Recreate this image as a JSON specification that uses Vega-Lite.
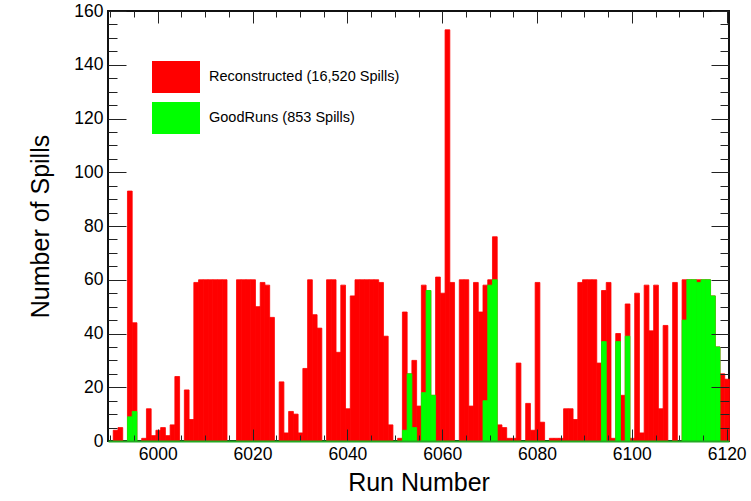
{
  "$schema": "https://vega.github.io/schema/vega-lite/v6.json",
  "width": 621,
  "height": 430,
  "autosize": {"type": "none"},
  "padding": {"left": 108, "top": 11, "right": 22, "bottom": 60},
  "background": "white",
  "config": {
    "view": {"stroke": "#111111", "strokeWidth": 2},
    "font": "Liberation Sans",
    "axis": {"labelFont": "Liberation Sans", "titleFont": "Liberation Sans", "labelColor": "#000000", "titleColor": "#000000", "grid": false, "titleFontWeight": "normal"},
    "legend": {"labelFont": "Liberation Sans"}
  },
  "datasets": {
    "reco": [
      {"run": 5991, "n": 4}, {"run": 5992, "n": 5}, {"run": 5994, "n": 93}, {"run": 5995, "n": 44},
      {"run": 5997, "n": 1}, {"run": 5998, "n": 12}, {"run": 5999, "n": 2}, {"run": 6000, "n": 4},
      {"run": 6001, "n": 5}, {"run": 6002, "n": 2}, {"run": 6003, "n": 6}, {"run": 6004, "n": 24},
      {"run": 6006, "n": 19}, {"run": 6007, "n": 8}, {"run": 6008, "n": 59}, {"run": 6009, "n": 60},
      {"run": 6010, "n": 60}, {"run": 6011, "n": 60}, {"run": 6012, "n": 60}, {"run": 6013, "n": 60},
      {"run": 6014, "n": 60}, {"run": 6017, "n": 60}, {"run": 6018, "n": 60}, {"run": 6019, "n": 60},
      {"run": 6020, "n": 60}, {"run": 6021, "n": 50}, {"run": 6022, "n": 59}, {"run": 6023, "n": 58},
      {"run": 6024, "n": 46}, {"run": 6026, "n": 22}, {"run": 6027, "n": 3}, {"run": 6028, "n": 11},
      {"run": 6029, "n": 10}, {"run": 6030, "n": 3}, {"run": 6031, "n": 27}, {"run": 6032, "n": 60},
      {"run": 6033, "n": 47}, {"run": 6034, "n": 42}, {"run": 6036, "n": 60}, {"run": 6037, "n": 60},
      {"run": 6038, "n": 33}, {"run": 6039, "n": 58}, {"run": 6040, "n": 12}, {"run": 6041, "n": 54},
      {"run": 6042, "n": 60}, {"run": 6043, "n": 60}, {"run": 6044, "n": 60}, {"run": 6045, "n": 60},
      {"run": 6046, "n": 60}, {"run": 6047, "n": 59}, {"run": 6048, "n": 39}, {"run": 6049, "n": 6},
      {"run": 6051, "n": 1}, {"run": 6052, "n": 48}, {"run": 6053, "n": 25}, {"run": 6054, "n": 30},
      {"run": 6055, "n": 13}, {"run": 6056, "n": 58}, {"run": 6057, "n": 56}, {"run": 6058, "n": 17},
      {"run": 6059, "n": 61}, {"run": 6060, "n": 55}, {"run": 6061, "n": 153}, {"run": 6062, "n": 59},
      {"run": 6064, "n": 60}, {"run": 6065, "n": 60}, {"run": 6066, "n": 13}, {"run": 6067, "n": 59},
      {"run": 6068, "n": 48}, {"run": 6069, "n": 58}, {"run": 6070, "n": 60}, {"run": 6071, "n": 76},
      {"run": 6072, "n": 6}, {"run": 6073, "n": 5}, {"run": 6074, "n": 1}, {"run": 6075, "n": 1},
      {"run": 6076, "n": 29}, {"run": 6078, "n": 14}, {"run": 6079, "n": 4}, {"run": 6080, "n": 59},
      {"run": 6081, "n": 7}, {"run": 6083, "n": 1}, {"run": 6084, "n": 1}, {"run": 6085, "n": 1},
      {"run": 6086, "n": 12}, {"run": 6087, "n": 12}, {"run": 6088, "n": 8}, {"run": 6089, "n": 59},
      {"run": 6090, "n": 60}, {"run": 6091, "n": 60}, {"run": 6092, "n": 60}, {"run": 6093, "n": 29},
      {"run": 6094, "n": 56}, {"run": 6095, "n": 59}, {"run": 6096, "n": 1}, {"run": 6097, "n": 40},
      {"run": 6098, "n": 17}, {"run": 6099, "n": 51}, {"run": 6100, "n": 1}, {"run": 6101, "n": 55},
      {"run": 6102, "n": 3}, {"run": 6103, "n": 58}, {"run": 6104, "n": 41}, {"run": 6105, "n": 58},
      {"run": 6106, "n": 12}, {"run": 6107, "n": 43}, {"run": 6109, "n": 59}, {"run": 6111, "n": 60},
      {"run": 6112, "n": 60}, {"run": 6113, "n": 60}, {"run": 6114, "n": 60}, {"run": 6115, "n": 60},
      {"run": 6116, "n": 60}, {"run": 6117, "n": 54}, {"run": 6118, "n": 35}, {"run": 6119, "n": 25},
      {"run": 6120, "n": 23}
    ],
    "good": [
      {"run": 5994, "n": 9}, {"run": 5995, "n": 11}, {"run": 6052, "n": 4}, {"run": 6053, "n": 25},
      {"run": 6054, "n": 5}, {"run": 6056, "n": 18}, {"run": 6057, "n": 56}, {"run": 6058, "n": 17},
      {"run": 6069, "n": 15}, {"run": 6070, "n": 58}, {"run": 6071, "n": 60}, {"run": 6094, "n": 37},
      {"run": 6097, "n": 37}, {"run": 6099, "n": 39}, {"run": 6111, "n": 45}, {"run": 6112, "n": 60},
      {"run": 6113, "n": 60}, {"run": 6114, "n": 59}, {"run": 6115, "n": 60}, {"run": 6116, "n": 60},
      {"run": 6117, "n": 54}, {"run": 6118, "n": 35}
    ]
  },
  "resolve": {"axis": {"x": "independent", "y": "independent"}},
  "layer": [
    {
      "data": {"name": "reco"},
      "mark": {"type": "bar", "binSpacing": 0, "stroke": "#ff0000", "strokeWidth": 0.8},
      "encoding": {
        "x": {"field": "run", "type": "quantitative", "bin": {"step": 1, "anchor": 0.5, "extent": [5989.5, 6120.5], "nice": false},
              "scale": {"domain": [5989.5, 6120.5], "nice": false, "zero": false},
              "axis": {"orient": "bottom", "values": [6000, 6020, 6040, 6060, 6080, 6100, 6120], "format": "d", "ticks": false, "domain": true, "domainColor": "#22aa22", "domainWidth": 2, "zindex": 2, "labelFontSize": 17.5, "labelPadding": 4, "labelFlush": false, "title": "Run Number", "titleFontSize": 25, "titlePadding": 8}},
        "y": {"field": "n", "type": "quantitative", "stack": null,
              "scale": {"domain": [0, 160], "nice": false, "zero": true},
              "axis": {"orient": "left", "values": [0, 20, 40, 60, 80, 100, 120, 140, 160], "ticks": false, "domain": false, "labelFontSize": 17.5, "labelPadding": 5, "title": "Number of Spills", "titleFontSize": 25, "titlePadding": 20}},
        "color": {"datum": "Reconstructed (16,520 Spills)", "type": "nominal",
                  "scale": {"domain": ["Reconstructed (16,520 Spills)", "GoodRuns (853 Spills)"], "range": ["#ff0000", "#00ff00"]},
                  "legend": {"title": null, "orient": "none", "legendX": 44, "legendY": 42, "padding": 0,
                             "symbolType": "M-1,-0.667H1V0.667H-1Z", "symbolSize": 2304, "symbolStrokeWidth": 0, "symbolOpacity": 1,
                             "labelFontSize": 14.5, "labelLimit": 400, "labelOffset": 9, "rowPadding": -3, "labelColor": "#000000"}}
      }
    },
    {
      "data": {"name": "good"},
      "mark": {"type": "bar", "binSpacing": 0, "stroke": "#00ff00", "strokeWidth": 0.8},
      "encoding": {
        "x": {"field": "run", "type": "quantitative", "bin": {"step": 1, "anchor": 0.5, "extent": [5989.5, 6120.5], "nice": false},
              "axis": {"orient": "bottom", "values": [6000, 6020, 6040, 6060, 6080, 6100, 6120], "labels": false, "domain": false, "tickSize": -12, "tickColor": "#222222", "tickWidth": 1, "zindex": 1, "title": null}},
        "y": {"field": "n", "type": "quantitative", "stack": null,
              "axis": {"orient": "left", "values": [0, 20, 40, 60, 80, 100, 120, 140, 160], "labels": false, "domain": false, "tickSize": -18, "tickColor": "#222222", "tickWidth": 1, "zindex": 1, "title": null}},
        "color": {"datum": "GoodRuns (853 Spills)", "type": "nominal"}
      }
    },
    {
      "data": {"name": "good"},
      "mark": {"type": "bar", "opacity": 0, "binSpacing": 0},
      "encoding": {
        "x": {"field": "run", "type": "quantitative", "bin": {"step": 1, "anchor": 0.5, "extent": [5989.5, 6120.5], "nice": false},
              "axis": {"orient": "bottom", "values": [5990, 5995, 6005, 6010, 6015, 6025, 6030, 6035, 6045, 6050, 6055, 6065, 6070, 6075, 6085, 6090, 6095, 6105, 6110, 6115], "labels": false, "domain": false, "tickSize": -6, "tickColor": "#222222", "tickWidth": 1, "zindex": 1, "title": null}},
        "y": {"field": "n", "type": "quantitative", "stack": null,
              "axis": {"orient": "left", "values": [5, 10, 15, 25, 30, 35, 45, 50, 55, 65, 70, 75, 85, 90, 95, 105, 110, 115, 125, 130, 135, 145, 150, 155], "labels": false, "domain": false, "tickSize": -9, "tickColor": "#222222", "tickWidth": 1, "zindex": 1, "title": null}}
      }
    },
    {
      "data": {"name": "good"},
      "mark": {"type": "bar", "opacity": 0, "binSpacing": 0},
      "encoding": {
        "x": {"field": "run", "type": "quantitative", "bin": {"step": 1, "anchor": 0.5, "extent": [5989.5, 6120.5], "nice": false},
              "axis": {"orient": "top", "values": [6000, 6020, 6040, 6060, 6080, 6100, 6120], "labels": false, "domain": false, "tickSize": -12, "tickColor": "#222222", "tickWidth": 1, "zindex": 1, "title": null}},
        "y": {"field": "n", "type": "quantitative", "stack": null,
              "axis": {"orient": "right", "values": [0, 20, 40, 60, 80, 100, 120, 140, 160], "labels": false, "domain": false, "tickSize": -18, "tickColor": "#222222", "tickWidth": 1, "zindex": 1, "title": null}}
      }
    },
    {
      "data": {"name": "good"},
      "mark": {"type": "bar", "opacity": 0, "binSpacing": 0},
      "encoding": {
        "x": {"field": "run", "type": "quantitative", "bin": {"step": 1, "anchor": 0.5, "extent": [5989.5, 6120.5], "nice": false},
              "axis": {"orient": "top", "values": [5990, 5995, 6005, 6010, 6015, 6025, 6030, 6035, 6045, 6050, 6055, 6065, 6070, 6075, 6085, 6090, 6095, 6105, 6110, 6115], "labels": false, "domain": false, "tickSize": -6, "tickColor": "#222222", "tickWidth": 1, "zindex": 1, "title": null}},
        "y": {"field": "n", "type": "quantitative", "stack": null,
              "axis": {"orient": "right", "values": [5, 10, 15, 25, 30, 35, 45, 50, 55, 65, 70, 75, 85, 90, 95, 105, 110, 115, 125, 130, 135, 145, 150, 155], "labels": false, "domain": false, "tickSize": -9, "tickColor": "#222222", "tickWidth": 1, "zindex": 1, "title": null}}
      }
    }
  ]
}
